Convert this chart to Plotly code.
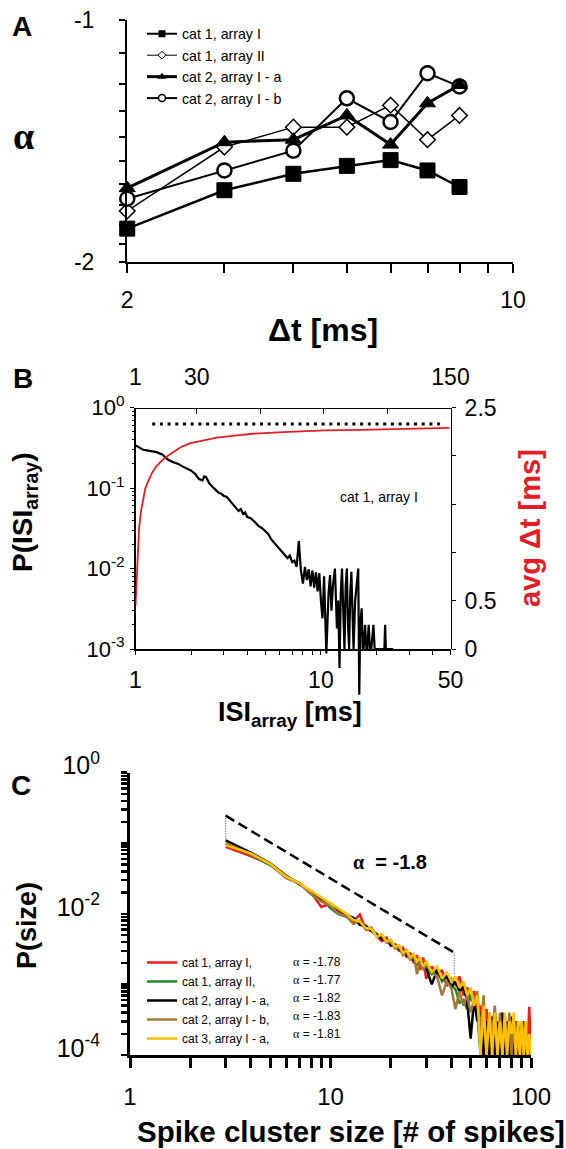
import math
import plotly.graph_objects as go

W, H = 566, 1149
FONT = "Liberation Sans, Arial, sans-serif"
SERIF = "Liberation Serif"

# ---------------- Panel A data ----------------
dt_ms = [2, 3, 4, 5, 6, 7, 8]
alpha_c1_I = [-1.82, -1.63, -1.555, -1.52, -1.495, -1.54, -1.615]
alpha_c1_II = [-1.73, -1.44, -1.36, -1.36, -1.277, -1.41, -1.315]
alpha_c2_Ia = [-1.62, -1.42, -1.41, -1.315, -1.43, -1.27, -1.205]
alpha_c2_Ib = [-1.67, -1.54, -1.455, -1.252, -1.34, -1.165, -1.21]
names_A = ["cat 1, array I", "cat 1, array II", "cat 2, array I - a", "cat 2, array I - b"]

# ---------------- Panel B data ----------------
isi_ms = [1.0, 1.05, 1.1, 1.15, 1.2, 1.3, 1.4, 1.5, 1.6, 1.7, 1.8, 1.9, 2.0, 2.1, 2.2, 2.3, 2.35, 2.4,
          2.5, 2.6, 2.7, 2.8, 2.9, 3.0, 3.1, 3.2, 3.3, 3.4, 3.5, 3.6, 3.7, 3.8, 3.9, 4.0, 4.2, 4.4,
          4.6, 4.8, 5.0, 5.2, 5.4, 5.6, 5.8, 6.0, 6.2, 6.4, 6.6, 6.8, 7.0, 7.2, 7.4, 7.6, 7.8, 8.0,
          8.2, 8.4, 8.6, 8.8, 9.0, 9.2, 9.4, 9.6, 9.8, 10.0, 10.2, 10.4, 10.7, 11.0, 11.2, 11.4, 11.6,
          11.9, 12.2, 12.4, 12.6, 12.8, 13.0, 13.2, 13.4, 13.6, 13.8, 14.0, 14.2, 14.4, 14.6, 14.8,
          15.0, 15.3, 15.6, 15.9, 16.1, 16.3, 16.6, 16.8, 17.0, 17.3, 17.6, 17.8, 18.1, 18.4, 18.7,
          19.2, 19.5, 20.0, 21.0, 22.0, 22.2, 22.4, 23.0, 24.6]
p_isi = [0.34, 0.32, 0.30, 0.295, 0.29, 0.28, 0.26, 0.225, 0.21, 0.20, 0.185, 0.176, 0.165, 0.15, 0.13, 0.125, 0.14, 0.138,
         0.115, 0.104, 0.095, 0.088, 0.085, 0.080, 0.078, 0.072, 0.066, 0.062, 0.056, 0.052, 0.055, 0.048, 0.050, 0.044, 0.042, 0.038,
         0.034, 0.032, 0.029, 0.027, 0.023, 0.021, 0.019, 0.0175, 0.016, 0.015, 0.0135, 0.0145, 0.012, 0.0125, 0.0105, 0.022, 0.0095, 0.0065,
         0.0105, 0.0072, 0.0098, 0.0060, 0.0095, 0.0058, 0.0090, 0.0052, 0.0088, 0.0040, 0.0024, 0.0080, 0.00088, 0.0050, 0.0083, 0.0030, 0.0060,
         0.0100, 0.0018, 0.0040, 0.00058, 0.0050, 0.0100, 0.0030, 0.0010, 0.0060, 0.0100, 0.0020, 0.0010, 0.0050, 0.0091, 0.0030,
         0.0010, 0.0040, 0.0070, 0.0100, 0.00027, 0.0020, 0.0032, 0.0010, 0.0010, 0.0020, 0.0010, 0.0010, 0.0020, 0.0010, 0.0010,
         0.0020, 0.0010, 0.0010, 0.0010, 0.0010, 0.0020, 0.0010, 0.0010, 0.0010]
assert len(isi_ms) == len(p_isi)
t_top = [1.0, 1.5, 2.0, 2.7, 3.6, 4.4, 5.6, 7.0, 8.7, 10.4, 12.9, 15.5, 18.9, 22.3, 26.6, 30.9, 39.4, 47.9,
         56.5, 73.5, 90.6, 107.7, 124.7, 149.5]
avg_dt = [0.45, 0.73, 0.98, 1.25, 1.43, 1.53, 1.66, 1.74, 1.82, 1.88, 1.94, 1.99, 2.04, 2.09, 2.13, 2.15, 2.19, 2.21,
          2.23, 2.25, 2.265, 2.27, 2.28, 2.29]
avg_dt_max = 2.33
dotted_t = [8.9, 145.6]

# ---------------- Panel C data ----------------
size_x = [3, 4, 5, 6, 7, 8, 9, 10, 11, 12, 13, 14, 15, 16, 17, 18, 19, 20, 21, 22, 23, 24, 25, 26, 27, 28, 29, 30,
          32, 34, 36, 38, 40, 42, 44, 46, 48, 50, 52, 54,
          56, 58, 60, 62, 64, 66, 68, 70, 72, 74, 76, 78, 80, 82, 84, 86, 88, 90, 92, 94, 96, 98, 100]
p_c1_I = [0.089, 0.066, 0.050, 0.034, 0.027, 0.020, 0.0125, 0.014, 0.011, 0.0092, 0.0078, 0.0098, 0.0060, 0.0058,
          0.0049, 0.0041, 0.0046, 0.0035, 0.0037, 0.0030, 0.0033, 0.0024, 0.0028, 0.0020, 0.0026, 0.0016, 0.0024, 0.0012,
          0.0018, 0.0013, 0.0016, 0.00095, 0.0012, 0.0010, 0.0013, 0.0007, 0.0009, 0.0006, 0.0008, 0.00035,
          0.0005, 0.0001, 0.00045, 0.0001, 0.0003, 0.0004, 0.0001, 0.0003, 0.0001, 0.00035, 0.0001, 0.0003, 0.0001,
          0.0002, 0.0001, 0.0003, 0.0001, 0.00025, 0.0001, 0.0002, 0.0001, 0.00048, 0.0001]
p_c1_II = [0.097, 0.069, 0.049, 0.034, 0.027, 0.020, 0.017, 0.012, 0.0098, 0.0090, 0.0085, 0.0074, 0.0062, 0.0060,
           0.0048, 0.0047, 0.0040, 0.0039, 0.0033, 0.0033, 0.0027, 0.0029, 0.0023, 0.0025, 0.0019, 0.0021, 0.0017, 0.0019,
           0.0014, 0.0016, 0.0011, 0.0013, 0.0010, 0.00085, 0.00055, 0.0006, 0.00045, 0.0007, 0.0005, 0.0004,
           0.0001, 0.0004, 0.0001, 0.00035, 0.0001, 0.0003, 0.0001, 0.0002, 0.0003, 0.0001, 0.00025, 0.0001, 0.0003,
           0.0001, 0.0002, 0.0001, 0.00025, 0.0001, 0.0002, 0.0001, 0.0002, 0.0001, 0.0001]
p_c2_Ia = [0.110, 0.074, 0.052, 0.035, 0.026, 0.021, 0.016, 0.013, 0.0115, 0.0097, 0.0088, 0.0070, 0.0068, 0.0057,
           0.0052, 0.0044, 0.0043, 0.0036, 0.0036, 0.0031, 0.0030, 0.0026, 0.0026, 0.0022, 0.0022, 0.0019, 0.0020, 0.0017,
           0.0010, 0.0016, 0.0012, 0.0013, 0.0009, 0.0011, 0.0008, 0.0009, 0.0006, 0.00017, 0.0006, 0.0003,
           0.0004, 0.0001, 0.0003, 0.0001, 0.00035, 0.0001, 0.0003, 0.0001, 0.0004, 0.0001, 0.0003, 0.0001, 0.00035,
           0.0001, 0.0003, 0.0001, 0.0002, 0.0001, 0.0003, 0.0001, 0.0001, 0.0002, 0.0001]
p_c2_Ib = [0.100, 0.070, 0.051, 0.032, 0.027, 0.019, 0.015, 0.013, 0.010, 0.0092, 0.0072, 0.0080, 0.0060, 0.0064,
           0.0048, 0.0050, 0.0039, 0.0040, 0.0032, 0.0034, 0.0026, 0.0029, 0.0022, 0.0026, 0.0014, 0.0022, 0.0016, 0.0019,
           0.0015, 0.0013, 0.0007, 0.0011, 0.0009, 0.00045, 0.0008, 0.0005, 0.0007, 0.0004, 0.0006, 0.0008,
           0.0002, 0.0007, 0.0001, 0.0004, 0.0002, 0.0005, 0.0001, 0.0004, 0.0001, 0.0003, 0.0001, 0.0004, 0.0001,
           0.0003, 0.0001, 0.0002, 0.0001, 0.0003, 0.0001, 0.0002, 0.0001, 0.0002, 0.0001]
p_c3_Ia = [0.094, 0.072, 0.051, 0.034, 0.027, 0.021, 0.017, 0.014, 0.0115, 0.010, 0.0082, 0.0078, 0.0063, 0.0061,
           0.0047, 0.0052, 0.0041, 0.0043, 0.0034, 0.0036, 0.0028, 0.0031, 0.0024, 0.0027, 0.0021, 0.0024, 0.0018, 0.0021,
           0.0015, 0.0018, 0.0012, 0.0015, 0.0011, 0.0013, 0.0009, 0.0011, 0.0007, 0.0009, 0.0005, 0.0007,
           0.0001, 0.0005, 0.0001, 0.0004, 0.0001, 0.0004, 0.0001, 0.0003, 0.0001, 0.0004, 0.0001, 0.0003, 0.0002,
           0.0004, 0.0001, 0.0003, 0.0001, 0.0003, 0.0001, 0.0003, 0.0001, 0.0002, 0.0001]
names_C = ["cat 1, array I,", "cat 1, array II,", "cat 2, array I - a,", "cat 2, array I - b,", "cat 3, array I - a,"]
alpha_fit = [-1.78, -1.77, -1.82, -1.83, -1.81]
colors_C = ["#f01a1a", "#1f8a1f", "#000000", "#a07838", "#ffc000"]
fit_x = [3, 41.4]
fit_p = [0.246, 0.00282]
guide_x = [3, 3, None, 41.4, 41.4]
guide_p = [0.246, 0.11, None, 0.00282, 0.00136]
for s in (p_c1_I, p_c1_II, p_c2_Ia, p_c2_Ib, p_c3_Ia):
    assert len(s) == len(size_x)


# ---------------- helpers (layout positions in pixels) ----------------
def xd(a, b):
    return [a / W, b / W]


def yd(top, bottom):
    return [1 - bottom / H, 1 - top / H]


def px(x):
    return x / W


def py(y):
    return 1 - y / H


# Panel geometry
A_L, A_R, A_T, A_B = 127, 513, 20, 261.5
B_L, B_R, B_T, B_B = 135.5, 450.5, 407.7, 649
B_EXT = 60  # extra room below axis where the ISI trace may dip
C_L, C_R, C_T, C_B = 130, 531, 772.7, 1055
b_decade = (B_B - B_T) / 3.0

fig = go.Figure()

# ---- Panel A traces
styles_A = [
    dict(symbol="square", size=15, color="black", line=dict(color="black", width=1)),
    dict(symbol="diamond", size=12, color="white", line=dict(color="black", width=1.5)),
    dict(symbol="triangle-up", size=14, color="black", line=dict(color="black", width=1)),
    dict(symbol="circle", size=14, color="white", line=dict(color="black", width=2.5)),
]
lw_A = [2.5, 1.5, 3, 2]
series_A = [alpha_c1_I, alpha_c1_II, alpha_c2_Ia, alpha_c2_Ib]
draw_order = [0, 1, 3, 2]
for i in draw_order:
    fig.add_trace(go.Scatter(
        x=dt_ms, y=[-a for a in series_A[i]], mode="lines+markers",
        line=dict(color="black", width=lw_A[i]), marker=styles_A[i],
        xaxis="x", yaxis="y", showlegend=False, cliponaxis=False, hoverinfo="skip"))
leg_styles = [
    dict(symbol="square", size=7, color="black"),
    dict(symbol="diamond", size=6, color="white", line=dict(color="black", width=1)),
    dict(symbol="triangle-up", size=8, color="black"),
    dict(symbol="circle", size=7, color="white", line=dict(color="black", width=1.5)),
]
for i in range(4):
    fig.add_trace(go.Scatter(
        x=[None], y=[None], mode="lines+markers", name=names_A[i],
        line=dict(color="black", width=[2, 1, 3, 2][i]), marker=leg_styles[i],
        xaxis="x", yaxis="y", legend="legend", showlegend=True))

# ---- Panel B traces
fig.add_trace(go.Scatter(x=[None], y=[None], mode="lines", xaxis="x2", yaxis="y2", showlegend=False))
fig.add_trace(go.Scatter(x=isi_ms, y=p_isi, mode="lines", line=dict(color="black", width=2.2),
                         xaxis="x2", yaxis="y4", showlegend=False, hoverinfo="skip"))
fig.add_trace(go.Scatter(x=dotted_t, y=[avg_dt_max, avg_dt_max], mode="lines",
                         line=dict(color="black", width=3, dash="3px,4.7px"),
                         xaxis="x3", yaxis="y3", showlegend=False, hoverinfo="skip"))
fig.add_trace(go.Scatter(x=t_top, y=avg_dt, mode="lines", line=dict(color="#e41e26", width=1.8),
                         xaxis="x3", yaxis="y3", showlegend=False, hoverinfo="skip"))

# ---- Panel C traces
series_C = [p_c1_I, p_c1_II, p_c2_Ia, p_c2_Ib, p_c3_Ia]
for i in range(5):
    fig.add_trace(go.Scatter(x=size_x, y=series_C[i], mode="lines", name=names_C[i],
                             line=dict(color=colors_C[i], width=2.5),
                             xaxis="x4", yaxis="y5", legend="legend2", showlegend=True, hoverinfo="skip"))
fig.add_trace(go.Scatter(x=fit_x, y=fit_p, mode="lines", line=dict(color="black", width=2.5, dash="10px,5px"),
                         xaxis="x4", yaxis="y5", showlegend=False, hoverinfo="skip"))
fig.add_trace(go.Scatter(x=guide_x, y=guide_p, mode="lines", line=dict(color="#444", width=1, dash="1px,1.5px"),
                         xaxis="x4", yaxis="y5", showlegend=False, hoverinfo="skip"))

# ---------------- axes ----------------
black = "black"
common = dict(showgrid=False, zeroline=False, linecolor=black, tickcolor=black, showline=True, automargin=False)

A_xticks = [2, 3, 4, 5, 6, 7, 8, 9, 10]
A_yticks = [1.0, 1.1, 1.2, 1.3, 1.4, 1.5, 1.6, 1.7, 1.8, 1.9, 2.0]
B_xticks = [1, 2, 3, 4, 5, 6, 7, 8, 9, 10, 20, 30, 40, 50]
B_minor = [m * 10 ** e for e in (-3, -2, -1) for m in range(2, 10)]
C_xticks = [1, 2, 3, 4, 5, 6, 7, 8, 9, 10, 20, 30, 40, 50, 60, 70, 80, 90, 100]
C_yticks = [m * 10 ** e for e in (-4, -3, -2, -1) for m in range(1, 10)] + [1]


def lab(vals, shown):
    return [shown.get(v, "") for v in vals]


layout = dict(
    width=W, height=H, autosize=False,
    margin=dict(l=0, r=0, t=0, b=0, pad=0, autoexpand=False),
    paper_bgcolor="white", plot_bgcolor="rgba(0,0,0,0)",
    font=dict(family=FONT, color=black),
    hovermode=False,
    xaxis=dict(common, domain=xd(A_L, A_R), type="log", range=[math.log10(1.998), 1], anchor="y",
               linewidth=2, ticks="outside", ticklen=9, tickwidth=2,
               tickvals=A_xticks, ticktext=lab(A_xticks, {2: "2", 10: "10"}),
               tickfont=dict(size=23), ticklabelstandoff=8),
    yaxis=dict(common, domain=yd(A_T, A_B), type="log", range=[math.log10(2), 0], anchor="x",
               linewidth=2, ticks="outside", ticklen=6, tickwidth=2,
               tickvals=A_yticks, ticktext=lab(A_yticks, {1.0: "-1", 2.0: "-2"}),
               tickfont=dict(size=23), ticklabelstandoff=20),
    xaxis2=dict(common, domain=xd(B_L, B_R), type="log", range=[0, math.log10(50)], anchor="y2",
                linewidth=1.5, ticks="outside", ticklen=4, tickwidth=1,
                tickvals=B_xticks, ticktext=lab(B_xticks, {1: "1", 10: "10", 50: "50"}),
                tickfont=dict(size=23), ticklabelstandoff=6),
    yaxis2=dict(common, domain=yd(B_T, B_B), type="log", range=[-3, 0], anchor="x2",
                linewidth=1.5, ticks="outside", ticklen=4, tickwidth=1,
                tickvals=[1e-3, 1e-2, 1e-1, 1],
                ticktext=["10<sup>-3</sup>", "10<sup>-2</sup>", "10<sup>-1</sup>", "10<sup>0</sup>"],
                minor=dict(tickvals=B_minor, ticks="outside", ticklen=2, tickwidth=1, tickcolor=black),
                tickfont=dict(size=22), ticklabelstandoff=1),
    xaxis3=dict(common, domain=xd(B_L, B_R), anchor="free", position=py(B_T), side="top", range=[1, 150],
                linewidth=1.5, ticks="inside", ticklen=5, tickwidth=1,
                tickvals=[1, 30, 60, 90, 120, 150], ticktext=["1", "30", "", "", "", "150"],
                tickfont=dict(size=23), ticklabelstandoff=14),
    yaxis3=dict(common, domain=yd(B_T, B_B), anchor="free", position=px(B_R), side="right", range=[0, 2.5],
                linewidth=1.5, ticks="outside", ticklen=4, tickwidth=1,
                tickvals=[0, 0.5, 1.0, 1.5, 2.0, 2.5], ticktext=["0", "0.5", "", "", "", "2.5"],
                tickfont=dict(size=23), ticklabelstandoff=4),
    yaxis4=dict(domain=yd(B_T, B_B + B_EXT), type="log", range=[-3 - B_EXT / b_decade, 0],
                anchor="free", position=px(B_L), visible=False, automargin=False),
    xaxis4=dict(common, domain=xd(C_L, C_R), type="log", range=[0, 2], anchor="y5",
                linewidth=3, ticks="outside", ticklen=10, tickwidth=3,
                tickvals=C_xticks, ticktext=lab(C_xticks, {1: "1", 10: "10", 100: "100"}),
                tickfont=dict(size=24), ticklabelstandoff=8),
    yaxis5=dict(common, domain=yd(C_T, C_B), type="log", range=[-4, 0], anchor="x4",
                linewidth=3, ticks="outside", ticklen=6, tickwidth=2.5,
                tickvals=C_yticks, ticktext=lab(C_yticks, {1: "10<sup>0</sup>", 1e-2: "10<sup>-2</sup>",
                                                          1e-4: "10<sup>-4</sup>"}),
                tickfont=dict(size=25), ticklabelstandoff=16, ticklabelshift=-7),
    legend=dict(x=px(142), y=py(18), xanchor="left", yanchor="top", bgcolor="rgba(0,0,0,0)",
                font=dict(size=14.2), traceorder="normal", itemclick=False),
    legend2=dict(x=px(142), y=py(948), xanchor="left", yanchor="top", bgcolor="rgba(0,0,0,0)",
                 font=dict(size=12), traceorder="normal", itemclick=False),
)
fig.update_layout(**layout)

ann = []


def add(text, x, y, size, rot=0, color=black, xanchor="center", family=FONT):
    ann.append(dict(text=text, x=px(x), y=py(y), xref="paper", yref="paper", showarrow=False,
                    xanchor=xanchor, yanchor="middle", textangle=rot,
                    font=dict(size=size, color=color, family=family)))


add("<b>A</b>", 21.5, 26, 28)
add("<b>α</b>", 23, 136, 38, family="Liberation Serif, serif")
add("<b>Δt [ms]</b>", 323, 330, 32)
add("<b>B</b>", 22.5, 378, 28)
add("<b>P(ISI<sub>array</sub>)</b>", 25, 512, 28, rot=-90)
add("<b>avg Δt [ms]</b>", 530, 528, 29, rot=-90, color="#e41e26")
add("cat 1, array I", 379, 497, 14)
add("<b>ISI<sub>array</sub> [ms]</b>", 290, 714, 27)
add("<b>C</b>", 21, 785, 28)
add("<b>P(size)</b>", 27, 926, 27, rot=-90)
add("<b>Spike cluster size [# of spikes]</b>", 351, 1131, 29.5)
add("<b><span style='font-family:Liberation Serif'>α</span>  = -1.8</b>", 390, 862, 20)
rows_C = [962, 980, 998, 1016, 1034]
for i in range(5):
    add(f"<span style='font-family:Liberation Serif'>α</span> = {alpha_fit[i]:.2f}", 290.5, rows_C[i], 12,
        xanchor="left")
fig.update_layout(annotations=ann)

fig.write_html("out.html", config={"displayModeBar": False, "staticPlot": True},
               post_script="document.body.style.margin='0';document.body.style.padding='0';"
                           "document.body.style.overflow='hidden';")
